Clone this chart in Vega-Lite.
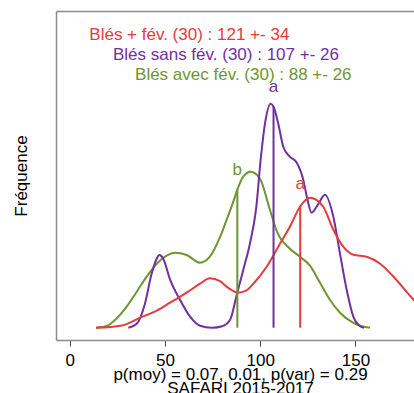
{
  "$schema": "https://vega.github.io/schema/vega-lite/v6.json",
  "width": 358,
  "height": 329,
  "autosize": {"type": "none"},
  "padding": {"left": 56, "top": 11, "right": 0, "bottom": 53},
  "config": {"view": {"stroke": null}, "font": "Liberation Sans", "text": {"font": "Liberation Sans"}},
  "datasets": {
    "curves": [
      {"series": "Blés avec fév.", "x": 13.8, "d": 0},
      {"series": "Blés avec fév.", "x": 19.4, "d": 1.7},
      {"series": "Blés avec fév.", "x": 24.7, "d": 9.4},
      {"series": "Blés avec fév.", "x": 29.9, "d": 21},
      {"series": "Blés avec fév.", "x": 35.2, "d": 36},
      {"series": "Blés avec fév.", "x": 40.4, "d": 51},
      {"series": "Blés avec fév.", "x": 45.7, "d": 64},
      {"series": "Blés avec fév.", "x": 50.9, "d": 72},
      {"series": "Blés avec fév.", "x": 55.3, "d": 75},
      {"series": "Blés avec fév.", "x": 61.4, "d": 72.7},
      {"series": "Blés avec fév.", "x": 68.4, "d": 65},
      {"series": "Blés avec fév.", "x": 73.6, "d": 71},
      {"series": "Blés avec fév.", "x": 79.0, "d": 91},
      {"series": "Blés avec fév.", "x": 82.4, "d": 108},
      {"series": "Blés avec fév.", "x": 85.9, "d": 126},
      {"series": "Blés avec fév.", "x": 88.0, "d": 138},
      {"series": "Blés avec fév.", "x": 91.1, "d": 151},
      {"series": "Blés avec fév.", "x": 95.0, "d": 156},
      {"series": "Blés avec fév.", "x": 99.9, "d": 149},
      {"series": "Blés avec fév.", "x": 105.1, "d": 118},
      {"series": "Blés avec fév.", "x": 108.8, "d": 96},
      {"series": "Blés avec fév.", "x": 115.6, "d": 79},
      {"series": "Blés avec fév.", "x": 120.9, "d": 71},
      {"series": "Blés avec fév.", "x": 126.1, "d": 62},
      {"series": "Blés avec fév.", "x": 131.4, "d": 45},
      {"series": "Blés avec fév.", "x": 136.6, "d": 28},
      {"series": "Blés avec fév.", "x": 141.9, "d": 15},
      {"series": "Blés avec fév.", "x": 148.7, "d": 5},
      {"series": "Blés avec fév.", "x": 153.4, "d": 1.5},
      {"series": "Blés avec fév.", "x": 157.6, "d": 0},

      {"series": "Blés sans fév.", "x": 30.8, "d": 0},
      {"series": "Blés sans fév.", "x": 35.2, "d": 4},
      {"series": "Blés sans fév.", "x": 39.5, "d": 24},
      {"series": "Blés sans fév.", "x": 43.0, "d": 54},
      {"series": "Blés sans fév.", "x": 45.7, "d": 69},
      {"series": "Blés sans fév.", "x": 47.0, "d": 72.7},
      {"series": "Blés sans fév.", "x": 49.1, "d": 69},
      {"series": "Blés sans fév.", "x": 52.7, "d": 48},
      {"series": "Blés sans fév.", "x": 57.9, "d": 28},
      {"series": "Blés sans fév.", "x": 63.2, "d": 11},
      {"series": "Blés sans fév.", "x": 68.4, "d": 2},
      {"series": "Blés sans fév.", "x": 74.7, "d": 0},
      {"series": "Blés sans fév.", "x": 80.0, "d": 1.5},
      {"series": "Blés sans fév.", "x": 84.2, "d": 8},
      {"series": "Blés sans fév.", "x": 87.7, "d": 33},
      {"series": "Blés sans fév.", "x": 91.0, "d": 57},
      {"series": "Blés sans fév.", "x": 94.6, "d": 84},
      {"series": "Blés sans fév.", "x": 97.8, "d": 118},
      {"series": "Blés sans fév.", "x": 100.4, "d": 171},
      {"series": "Blés sans fév.", "x": 102.5, "d": 204},
      {"series": "Blés sans fév.", "x": 105.5, "d": 224},
      {"series": "Blés sans fév.", "x": 107.0, "d": 221},
      {"series": "Blés sans fév.", "x": 109.5, "d": 204},
      {"series": "Blés sans fév.", "x": 112.1, "d": 181},
      {"series": "Blés sans fév.", "x": 115.6, "d": 171},
      {"series": "Blés sans fév.", "x": 119.2, "d": 165},
      {"series": "Blés sans fév.", "x": 122.6, "d": 148},
      {"series": "Blés sans fév.", "x": 124.6, "d": 130},
      {"series": "Blés sans fév.", "x": 127.0, "d": 115},
      {"series": "Blés sans fév.", "x": 130.3, "d": 123},
      {"series": "Blés sans fév.", "x": 134.0, "d": 133},
      {"series": "Blés sans fév.", "x": 138.4, "d": 111},
      {"series": "Blés sans fév.", "x": 141.9, "d": 74},
      {"series": "Blés sans fév.", "x": 145.4, "d": 38},
      {"series": "Blés sans fév.", "x": 148.9, "d": 11},
      {"series": "Blés sans fév.", "x": 152.4, "d": 1.5},
      {"series": "Blés sans fév.", "x": 154.5, "d": 0},

      {"series": "Blés + fév.", "x": 13.8, "d": 0},
      {"series": "Blés + fév.", "x": 21.2, "d": 0.8},
      {"series": "Blés + fév.", "x": 28.1, "d": 2.5},
      {"series": "Blés + fév.", "x": 36.9, "d": 10},
      {"series": "Blés + fév.", "x": 45.7, "d": 17},
      {"series": "Blés + fév.", "x": 52.7, "d": 25},
      {"series": "Blés + fév.", "x": 61.4, "d": 35},
      {"series": "Blés + fév.", "x": 68.4, "d": 44},
      {"series": "Blés + fév.", "x": 73.6, "d": 49.4},
      {"series": "Blés + fév.", "x": 78.9, "d": 46.5},
      {"series": "Blés + fév.", "x": 83.1, "d": 40},
      {"series": "Blés + fév.", "x": 88.5, "d": 35},
      {"series": "Blés + fév.", "x": 92.5, "d": 37},
      {"series": "Blés + fév.", "x": 96.4, "d": 44},
      {"series": "Blés + fév.", "x": 103.4, "d": 61},
      {"series": "Blés + fév.", "x": 110.4, "d": 84},
      {"series": "Blés + fév.", "x": 115.6, "d": 101},
      {"series": "Blés + fév.", "x": 120.9, "d": 121},
      {"series": "Blés + fév.", "x": 126.1, "d": 130},
      {"series": "Blés + fév.", "x": 129.3, "d": 128},
      {"series": "Blés + fév.", "x": 133.1, "d": 121},
      {"series": "Blés + fév.", "x": 138.4, "d": 98},
      {"series": "Blés + fév.", "x": 143.6, "d": 81},
      {"series": "Blés + fév.", "x": 148.9, "d": 73},
      {"series": "Blés + fév.", "x": 155.9, "d": 71},
      {"series": "Blés + fév.", "x": 163.0, "d": 64},
      {"series": "Blés + fév.", "x": 170.0, "d": 51},
      {"series": "Blés + fév.", "x": 180.5, "d": 28},
      {"series": "Blés + fév.", "x": 186.5, "d": 16},
      {"series": "Blés + fév.", "x": 194.4, "d": 6},
      {"series": "Blés + fév.", "x": 204.9, "d": 1.5},
      {"series": "Blés + fév.", "x": 215.4, "d": 0}
    ],
    "groups": [
      {"series": "Blés + fév.", "mean": 121, "base": 0, "top": 122, "letter": "a", "letterY": 138.4, "label": "Blés + fév. (30) : 121 +- 34", "labelX": 10.3, "labelY": 288.2},
      {"series": "Blés sans fév.", "mean": 107, "base": 0, "top": 221, "letter": "a", "letterY": 235.7, "label": "Blés sans fév. (30) : 107 +- 26", "labelX": 22.7, "labelY": 267.7},
      {"series": "Blés avec fév.", "mean": 88, "base": 0, "top": 138, "letter": "b", "letterY": 152.7, "label": "Blés avec fév. (30) : 88 +- 26", "labelX": 34.3, "labelY": 247.7}
    ]
  },
  "layer": [
    {
      "data": {"name": "curves"},
      "mark": {"type": "line", "interpolate": "monotone", "strokeWidth": 2, "clip": true},
      "encoding": {
        "x": {
          "field": "x", "type": "quantitative",
          "scale": {"domain": [-7.19, 180.74], "nice": false, "zero": false},
          "axis": {
            "orient": "bottom", "values": [0, 50, 100, 150], "grid": false,
            "domain": true, "domainColor": "#8c8c8c", "domainWidth": 1.5,
            "ticks": true, "tickColor": "#444444", "tickSize": 6, "tickWidth": 1,
            "labelFontSize": 17, "labelColor": "#000000", "labelPadding": 6, "labelFont": "Liberation Sans",
            "title": ["p(moy) = 0.07, 0.01, p(var) = 0.29", "SAFARI 2015-2017"],
            "titleFont": "Liberation Sans", "titleFontSize": 17, "titleFontWeight": "normal", "titleColor": "#000000",
            "titleLineHeight": 14, "titleBaseline": "alphabetic", "titleAlign": "center",
            "titleX": 184, "titleY": 39.5
          }
        },
        "y": {
          "field": "d", "type": "quantitative",
          "scale": {"domain": [-12.3, 316.7], "nice": false, "zero": false},
          "axis": {
            "orient": "left", "labels": false, "ticks": false, "grid": false,
            "domain": true, "domainColor": "#8c8c8c", "domainWidth": 1.5,
            "title": "Fréquence", "titleFont": "Liberation Sans", "titleFontSize": 17, "titleFontWeight": "normal",
            "titleColor": "#000000", "titleAngle": 270, "titleBaseline": "alphabetic", "titleAlign": "center",
            "titleX": -29.3, "titleY": 164.5
          }
        },
        "color": {
          "field": "series", "type": "nominal",
          "scale": {"domain": ["Blés + fév.", "Blés sans fév.", "Blés avec fév."], "range": ["#E23C3C", "#7030A0", "#6E9630"]},
          "legend": null
        }
      }
    },
    {
      "data": {"name": "groups"},
      "mark": {"type": "rule", "strokeWidth": 2},
      "encoding": {
        "x": {
          "field": "mean", "type": "quantitative",
          "axis": {"orient": "top", "labels": false, "ticks": false, "grid": false, "title": null,
                   "domain": true, "domainColor": "#8c8c8c", "domainWidth": 1.5}
        },
        "y": {"field": "base", "type": "quantitative"},
        "y2": {"field": "top"},
        "color": {"field": "series", "type": "nominal", "legend": null}
      }
    },
    {
      "data": {"name": "groups"},
      "mark": {"type": "text", "align": "center", "baseline": "alphabetic", "fontSize": 17, "font": "Liberation Sans"},
      "encoding": {
        "x": {"field": "mean", "type": "quantitative", "axis": null},
        "y": {"field": "letterY", "type": "quantitative"},
        "text": {"field": "letter", "type": "nominal"},
        "color": {"field": "series", "type": "nominal", "legend": null}
      }
    },
    {
      "data": {"name": "groups"},
      "mark": {"type": "text", "align": "left", "baseline": "alphabetic", "fontSize": 17, "font": "Liberation Sans"},
      "encoding": {
        "x": {"field": "labelX", "type": "quantitative", "axis": null},
        "y": {"field": "labelY", "type": "quantitative"},
        "text": {"field": "label", "type": "nominal"},
        "color": {"field": "series", "type": "nominal", "legend": null}
      }
    }
  ],
  "resolve": {"axis": {"x": "independent"}}
}
